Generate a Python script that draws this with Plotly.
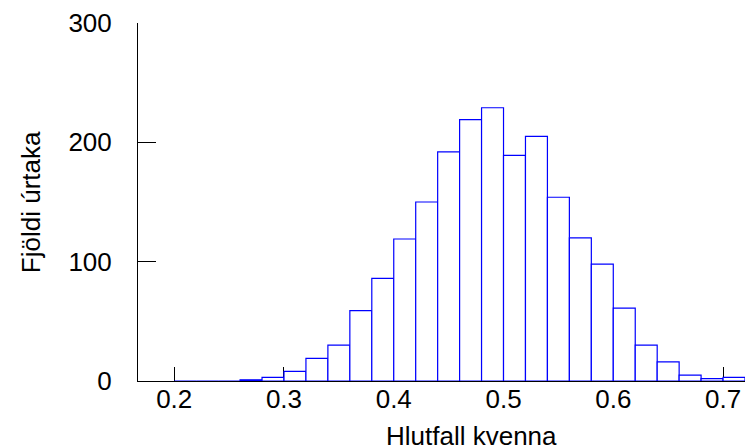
import plotly.graph_objects as go

bin_left = [0.20, 0.22, 0.24, 0.26, 0.28, 0.30, 0.32, 0.34, 0.36, 0.38, 0.40, 0.42,
            0.44, 0.46, 0.48, 0.50, 0.52, 0.54, 0.56, 0.58, 0.60, 0.62, 0.64, 0.66,
            0.68, 0.70]
counts = [0, 0, 0, 1, 3, 8, 19, 30, 59, 86, 119, 150,
          192, 219, 229, 189, 205, 154, 120, 98, 61, 30, 16, 5,
          2, 3]
bin_width = 0.02
x_ticks = [0.2, 0.3, 0.4, 0.5, 0.6, 0.7]
x_tick_labels = ["0.2", "0.3", "0.4", "0.5", "0.6", "0.7"]
y_ticks = [0, 100, 200, 300]
y_tick_labels = ["0", "100", "200", "300"]

centers = [b + bin_width / 2 for b in bin_left]

font = "Liberation Sans, Arial, sans-serif"
fsize = 26

fig = go.Figure(go.Bar(
    x=centers, y=counts, width=bin_width,
    marker=dict(color="white", line=dict(color="#0000ff", width=1.2)),
    hoverinfo="x+y",
))

fig.update_layout(
    width=745, height=448,
    margin=dict(l=138, r=0, t=23, b=67),
    paper_bgcolor="white", plot_bgcolor="white",
    showlegend=False,
    font=dict(family=font, size=fsize, color="black"),
    xaxis=dict(
        range=[0.167, 0.72], tickvals=x_ticks, ticktext=x_tick_labels,
        ticks="inside", ticklen=14, tickcolor="black", tickwidth=1,
        showline=True, linecolor="black", linewidth=1,
        showgrid=False, zeroline=False, layer="below traces",
        ticklabelstandoff=-5,
        tickfont=dict(family=font, size=fsize, color="black"),
    ),
    yaxis=dict(
        range=[0, 300], tickvals=y_ticks, ticktext=y_tick_labels,
        ticks="inside", ticklen=18, tickcolor="black", tickwidth=1,
        showline=True, linecolor="black", linewidth=1,
        showgrid=False, zeroline=False, layer="below traces",
        ticklabelstandoff=20,
        tickfont=dict(family=font, size=fsize, color="black"),
    ),
    annotations=[
        dict(text="Hlutfall kvenna", xref="x", yref="paper", x=0.4705, y=-0.1536,
             xanchor="center", yanchor="middle", showarrow=False,
             font=dict(family=font, size=fsize, color="black")),
        dict(text="Fjöldi úrtaka", xref="paper", yref="paper", x=-0.176, y=0.5,
             xanchor="center", yanchor="middle", textangle=-90, showarrow=False,
             font=dict(family=font, size=fsize, color="black")),
    ],
)

fig.write_html("out.html", config={"displayModeBar": False},
               post_script="document.body.style.margin='0';document.body.style.overflow='hidden';")
